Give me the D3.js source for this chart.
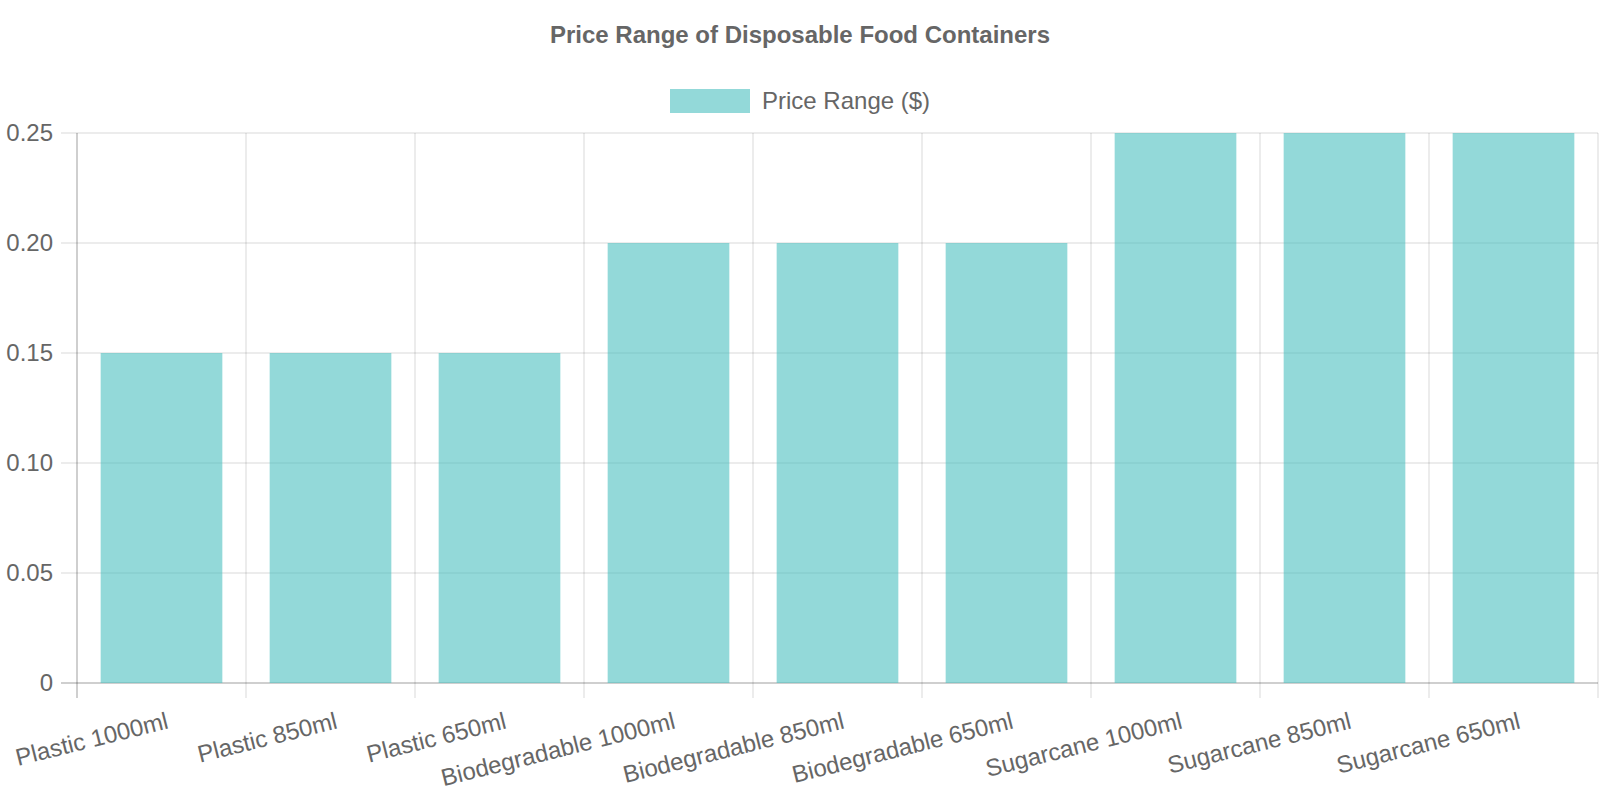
<!DOCTYPE html>
<html><head><meta charset="utf-8">
<script src="https://cdn.jsdelivr.net/npm/d3@7"></script>
<style>body{margin:0;background:#fff;font-family:"Liberation Sans",Arial,sans-serif;}</style>
</head><body><svg id="c" width="1600" height="800"></svg>
<script>
const categories = ["Plastic 1000ml","Plastic 850ml","Plastic 650ml","Biodegradable 1000ml","Biodegradable 850ml","Biodegradable 650ml","Sugarcane 1000ml","Sugarcane 850ml","Sugarcane 650ml"];
const prices = [0.15,0.15,0.15,0.20,0.20,0.20,0.25,0.25,0.25];
const yTicks = [0,0.05,0.10,0.15,0.20,0.25];
const seriesName = "Price Range ($)";
const chartTitle = "Price Range of Disposable Food Containers";

const svg = d3.select("#c");
const L=77, R=1598, T=133, B=683;
const x = d3.scaleBand().domain(categories).range([L,R]).paddingInner(0).paddingOuter(0);
const y = d3.scaleLinear().domain([0,0.25]).range([B,T]);
const fill = "rgba(75,192,192,0.6)";

// title
svg.append("text").attr("x",800).attr("y",43).attr("text-anchor","middle")
  .attr("font-size",24).attr("font-weight","bold").attr("fill","#666").text(chartTitle);
// legend
svg.append("rect").attr("x",670).attr("y",89).attr("width",80).attr("height",24).attr("fill",fill);
svg.append("text").attr("x",762).attr("y",101).attr("dy","0.35em").attr("font-size",24).attr("fill","#666").text(seriesName);

// grid
const g = svg.append("g");
yTicks.forEach(t=>{
  g.append("line").attr("x1",L-16).attr("x2",R).attr("y1",y(t)).attr("y2",y(t))
   .attr("stroke", t===0 ? "rgba(0,0,0,0.25)" : "rgba(0,0,0,0.1)").attr("stroke-width",1.5);
  g.append("text").attr("x",53).attr("y",y(t)).attr("dy","0.35em").attr("text-anchor","end")
   .attr("font-size",24).attr("fill","#666").text(t===0?"0":d3.format(".2f")(t));
});
const xEdges = categories.map(c=>x(c)).concat([R]);
xEdges.forEach((xx,i)=>{
  g.append("line").attr("x1",xx).attr("x2",xx).attr("y1",T).attr("y2",B+15)
   .attr("stroke", i===0 ? "rgba(0,0,0,0.25)" : "rgba(0,0,0,0.1)").attr("stroke-width",1.5);
});

// bars
const bw = x.bandwidth()*0.72;
svg.append("g").selectAll("rect").data(categories).join("rect")
  .attr("x",(d)=>x(d)+(x.bandwidth()-bw)/2)
  .attr("width",bw)
  .attr("y",(d,i)=>y(prices[i]))
  .attr("height",(d,i)=>B-y(prices[i]))
  .attr("fill",fill);

// x labels
svg.append("g").selectAll("text").data(categories).join("text")
  .attr("transform",d=>`translate(${x(d)+x.bandwidth()/2+6},${B+37}) rotate(-14)`)
  .attr("text-anchor","end").attr("dy","0.35em")
  .attr("font-size",24).attr("fill","#666").text(d=>d);
</script></body></html>
